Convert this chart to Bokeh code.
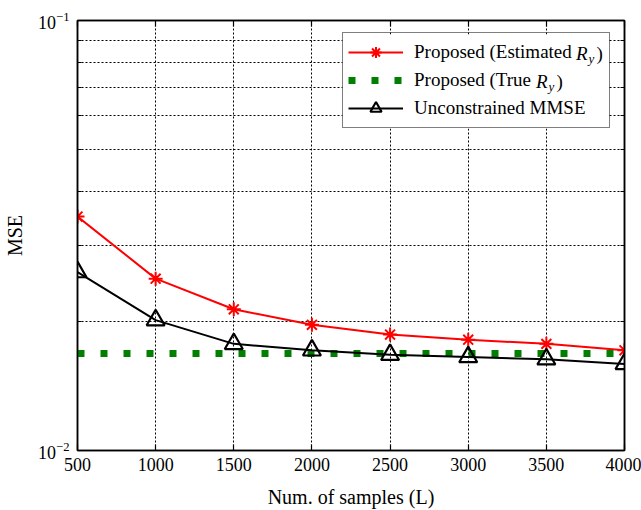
from bokeh.plotting import figure
from bokeh.models import (FixedTicker, LinearAxis, LogAxis, Legend, LegendItem,
                          Label, Range1d, BoxAnnotation)
from bokeh.embed import file_html
from bokeh.resources import INLINE

# ---------------- data ----------------
num_samples = [500, 1000, 1500, 2000, 2500, 3000, 3500, 4000]
mse_estimated = [0.0350, 0.0251, 0.0213, 0.0196, 0.0186, 0.0181, 0.0177, 0.0171]
mse_true = [0.0168, 0.0168, 0.0168, 0.0168, 0.0168, 0.0168, 0.0168, 0.0168]
mse_mmse = [0.0260, 0.0201, 0.0177, 0.0171, 0.0167, 0.0165, 0.0163, 0.0159]

x_ticks = [500, 1000, 1500, 2000, 2500, 3000, 3500, 4000]
y_major = [0.01, 0.1]
y_minor = [0.02, 0.03, 0.04, 0.05, 0.06, 0.07, 0.08, 0.09]

label_est = "Proposed (Estimated"
label_true = "Proposed (True"
label_mmse = "Unconstrained MMSE"
x_title = "Num. of samples (L)"
y_title = "MSE"

FONT = "Liberation Serif"

p = figure(width=641, height=510, x_range=Range1d(500, 4000),
           y_range=Range1d(0.01, 0.1), y_axis_type="log",
           output_backend="svg", toolbar_location=None,
           min_border_left=77, min_border_right=17,
           min_border_top=20, min_border_bottom=60)
p.outline_line_color = "black"
p.outline_line_width = 1.5
p.background_fill_color = "white"
p.border_fill_color = "white"

xticker = FixedTicker(ticks=x_ticks)
yticker = FixedTicker(ticks=y_major, minor_ticks=y_minor)

# bottom / left axes
xa = p.xaxis[0]
xa.ticker = xticker
ya = p.yaxis[0]
ya.ticker = yticker
for ax in (xa, ya):
    ax.major_tick_in = 6
    ax.major_tick_out = 0
    ax.axis_line_width = 1.5
    ax.major_tick_line_width = 1.2
    ax.major_label_text_font = FONT
    ax.major_label_text_font_size = "18px"
    ax.major_label_text_color = "black"
    ax.axis_label_text_font = FONT
    ax.axis_label_text_font_size = "20px"
    ax.axis_label_text_font_style = "normal"
    ax.axis_label_text_color = "black"
xa.minor_tick_in = 0
xa.minor_tick_out = 0
ya.minor_tick_in = 4
ya.minor_tick_out = 0
xa.major_label_standoff = 7
ya.major_label_standoff = 8
xa.axis_label = x_title
ya.axis_label = y_title
xa.axis_label_standoff = 12
ya.axis_label_standoff = 9

# top / right axes (ticks only, labels not drawn)
top = LinearAxis(ticker=xticker, major_tick_in=6, major_tick_out=0,
                 minor_tick_in=0, minor_tick_out=0, axis_line_width=1.5,
                 major_tick_line_width=1.2,
                 major_label_text_font_size="1px", major_label_text_color=None,
                 major_label_standoff=0)
right = LogAxis(ticker=yticker, major_tick_in=6, major_tick_out=0,
                minor_tick_in=4, minor_tick_out=0, axis_line_width=1.5,
                major_tick_line_width=1.2,
                major_label_text_font_size="1px", major_label_text_color=None,
                major_label_standoff=0)
p.add_layout(top, "above")
p.add_layout(right, "right")

# grids
p.xgrid.ticker = xticker
p.ygrid.ticker = yticker
p.xgrid.grid_line_color = "black"
p.xgrid.grid_line_dash = "2 2"
p.xgrid.grid_line_width = 1
p.ygrid.grid_line_color = "black"
p.ygrid.grid_line_dash = "2 2"
p.ygrid.minor_grid_line_color = "black"
p.ygrid.minor_grid_line_dash = "2 2"

# series
r_est_l = p.line(num_samples, mse_estimated, line_color="#ff0000", line_width=2)
r_est_m = p.scatter(num_samples, mse_estimated, marker="asterisk", size=14,
                    line_color="#ff0000", line_width=2)
r_true_l = p.line(num_samples, mse_true, line_color="#007f00", line_width=7,
                  line_dash="7 16", line_cap="butt")
r_mmse_l = p.line(num_samples, mse_mmse, line_color="black", line_width=2)
r_mmse_m = p.scatter(num_samples, mse_mmse, marker="triangle", size=18,
                     line_color="black", line_width=2.2, fill_color=None)

# white background of the legend box (frame-relative screen px)
p.add_layout(BoxAnnotation(left=265, right=531, bottom=322, top=416,
                           left_units="screen", right_units="screen",
                           bottom_units="screen", top_units="screen",
                           fill_color="white", fill_alpha=1, line_color=None,
                           level="annotation"))

# legend: box ~342..608 x 34..128 (canvas); location = bottom-left in frame px
legend = Legend(items=[
    LegendItem(label=label_est, renderers=[r_est_l, r_est_m]),
    LegendItem(label=label_true, renderers=[r_true_l]),
    LegendItem(label=label_mmse, renderers=[r_mmse_l, r_mmse_m]),
], location=(265, 322))
legend.label_text_font = FONT
legend.label_text_font_size = "19px"
legend.label_text_color = "black"
legend.glyph_width = 55
legend.glyph_height = 28
legend.label_height = 28
legend.label_width = 190
legend.label_standoff = 11
legend.spacing = 0
legend.padding = 5
legend.margin = 0
legend.border_line_color = "black"
legend.border_line_width = 1
legend.background_fill_alpha = 0
p.add_layout(legend)

# italic R with subscript y in legend texts
text_x0 = 336
row_y = [397, 369]
r_pos = [text_x0 + 162.5, text_x0 + 122.4]
for rx, ry in zip(r_pos, row_y):
    p.add_layout(Label(x=rx, y=ry, x_units="screen", y_units="screen", text="R",
                       text_font=FONT, text_font_size="19px", text_font_style="italic",
                       text_baseline="middle", text_align="left", text_color="black",
                       level="overlay"))
    p.add_layout(Label(x=rx + 12.5, y=ry - 5, x_units="screen", y_units="screen", text="y",
                       text_font=FONT, text_font_size="13px", text_font_style="italic",
                       text_baseline="middle", text_align="left", text_color="black",
                       level="overlay"))
    p.add_layout(Label(x=rx + 20.5, y=ry, x_units="screen", y_units="screen", text=")",
                       text_font=FONT, text_font_size="19px",
                       text_baseline="middle", text_align="left", text_color="black",
                       level="overlay"))

open("out.html", "w").write(file_html(p, INLINE))
